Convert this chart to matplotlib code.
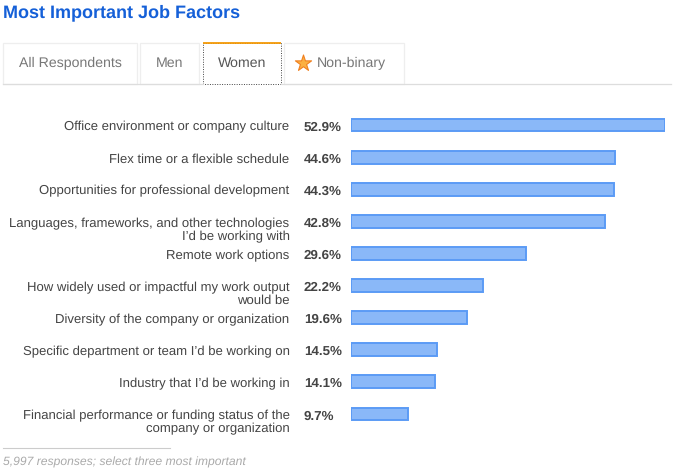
import matplotlib
matplotlib.use('Agg')
import matplotlib.pyplot as plt
from matplotlib.patches import Rectangle

plt.rcParams['font.family'] = ['Liberation Sans', 'DejaVu Sans']
plt.rcParams['text.hinting'] = 'no_hinting'

factors = [
    'Office environment or company culture',
    'Flex time or a flexible schedule',
    'Opportunities for professional development',
    'Languages, frameworks, and other technologies\nI\u2019d be working with',
    'Remote work options',
    'How widely used or impactful my work output\nwould be',
    'Diversity of the company or organization',
    'Specific department or team I\u2019d be working on',
    'Industry that I\u2019d be working in',
    'Financial performance or funding status of the\ncompany or organization',
]
values = [52.9, 44.6, 44.3, 42.8, 29.6, 22.2, 19.6, 14.5, 14.1, 9.7]
tabs = ['All Respondents', 'Men', 'Women', 'Non-binary']

W, H = 692, 468
fig = plt.figure(figsize=(W / 100, H / 100), dpi=100)

# overlay in pixel coords for the page furniture
bg = fig.add_axes([0, 0, 1, 1])
bg.set_xlim(0, W)
bg.set_ylim(H, 0)
bg.axis('off')

bg.text(3, 17.5, 'Most Important Job Factors', fontsize=12.95, fontweight='bold',
        color='#1560d8', va='baseline')

# tabs
tab_x = [(3, 137), (140, 199), (202.5, 280.5), (284, 404)]
for (x0, x1), name in zip(tab_x, tabs):
    if name == 'Women':
        bg.add_patch(Rectangle((x0, 43), x1 - x0, 41, fill=False, ec='#444444',
                               lw=0.7, ls=(0, (1, 1.5))))
        bg.plot([x0, x1], [43, 43], color='#f49a06', lw=1.3, solid_capstyle='butt')
    else:
        bg.add_patch(Rectangle((x0, 43), x1 - x0, 41, fill=False, ec='#eeeeee', lw=0.9))
bg.plot([3, 203], [84, 84], color='#dddddd', lw=0.9)
bg.plot([281, 671], [84, 84], color='#dddddd', lw=0.9)

bg.text(70.5, 67, tabs[0], fontsize=10.2, color='#777777', ha='center', va='baseline')
bg.text(170, 67, tabs[1], fontsize=10.2, color='#777777', ha='center', va='baseline')
bg.text(242, 67, tabs[2], fontsize=10.2, color='#555555', ha='center', va='baseline')
bg.text(317, 67, tabs[3], fontsize=10.2, color='#777777', ha='left', va='baseline')
bg.scatter([303], [63], marker='*', s=150, color='#fbb040', edgecolors='#f08020',
           linewidths=0.8)

# footnote
bg.plot([3, 170], [447.5, 447.5], color='#cccccc', lw=0.8)
bg.text(3, 466, '5,997 responses; select three most important', fontsize=8.7,
        style='italic', color='#aaaaaa', va='baseline')

# bars, 351px = 0 and 665px = 52.9
top, bottom = 109, 430
ax = fig.add_axes([351 / W, 1 - bottom / H, (664.5 - 351) / W, (bottom - top) / H])
ax.patch.set_alpha(0)
positions = list(range(len(values)))
ax.barh(positions, values, height=0.4, color='#8ab8f8', edgecolor='#5b9bf5', linewidth=1.4)
ax.set_xlim(0, 52.9)
ax.set_ylim(len(values) - 0.5, -0.5)
ax.axis('off')

# labels line by line, first line level with the bar
for pos, factor, value in zip(positions, factors, values):
    y_px = top + (pos + 0.5) * (bottom - top) / len(values)
    for i, line in enumerate(factor.split('\n')):
        bg.text(289.5, y_px + 5.5 + i * 13, line, fontsize=9.43, color='#444444',
                ha='right', va='baseline')
    bg.text(304, y_px + 5.5, f'{value}%', fontsize=9.6, fontweight='bold',
            color='#444444', va='baseline')

fig.savefig('out.png', dpi=100)
